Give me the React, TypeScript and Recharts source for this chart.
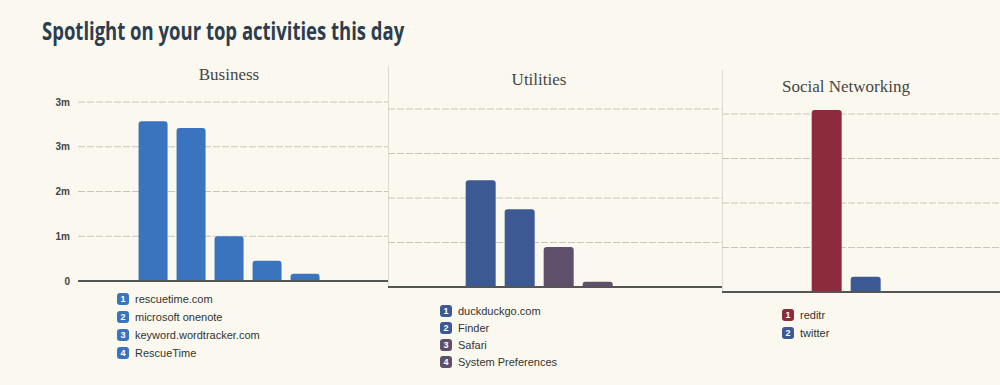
import { BarChart, Bar, XAxis, YAxis, CartesianGrid, Cell } from "recharts";

// minutes spent per app
const businessApps = [
  "rescuetime.com",
  "microsoft onenote",
  "keyword.wordtracker.com",
  "RescueTime",
  "",
];
const businessMinutes = [3.57, 3.42, 1.0, 0.45, 0.16];

const utilityApps = ["duckduckgo.com", "Finder", "Safari", "System Preferences"];
const utilityMinutes = [2.4, 1.75, 0.9, 0.12];

const socialApps = ["reditr", "twitter"];
const socialMinutes = [4.09, 0.34];

const yTicks = [0, 1, 2, 3, 4];
const yTickLabels = ["0", "1m", "2m", "3m", "3m"];

const businessColors = ["#3a74bf", "#3a74bf", "#3a74bf", "#3a74bf", "#3a74bf"];
const utilityColors = ["#3d5994", "#3d5994", "#5f4f6b", "#5f4f6b"];
const socialColors = ["#8b2b3b", "#3d5994"];

const DOMAIN_MAX = 4.2;
const CREAM = "#fbf9ef";

interface PanelProps {
  title: string;
  names: string[];
  values: number[];
  colors: string[];
  left: number;
  width: number;
  axisWidth: number;
  top4: number; // y of the 4th gridline
  baseline: number;
  padLeft: number;
  padRight: number;
  titleY: number;
  legendX: number;
  legendY: number;
  legendGap: number;
  legendCount: number;
}

function Panel(p: PanelProps) {
  const data = p.names.map((name, i) => ({ name, minutes: p.values[i] }));
  const unit = (p.baseline - p.top4) / 4;
  const plotTop = p.baseline - DOMAIN_MAX * unit;
  const chartHeight = p.baseline + 6;
  const xAxisHeight = 2;
  const plotLeft = p.left + p.axisWidth;
  const plotWidth = p.width - p.axisWidth;

  return (
    <>
      <div
        style={{
          position: "absolute",
          left: plotLeft,
          width: plotWidth - p.padRight + p.padLeft,
          top: p.titleY,
          textAlign: "center",
          fontFamily: "'Liberation Serif', serif",
          fontSize: 17,
          color: "#454545",
        }}
      >
        {p.title}
      </div>
      <div style={{ position: "absolute", left: p.left, top: 0 }}>
        <BarChart
          width={p.width}
          height={chartHeight}
          data={data}
          margin={{ top: plotTop, right: 0, left: 0, bottom: chartHeight - p.baseline - xAxisHeight }}
          barCategoryGap="12%"
        >
          <CartesianGrid
            vertical={false}
            stroke="#c9c5b8"
            strokeDasharray="7 2"
            horizontalValues={yTicks}
          />
          <XAxis
            dataKey="name"
            tick={false}
            tickLine={false}
            height={xAxisHeight}
            axisLine={{ stroke: "#555", strokeWidth: 2 }}
            padding={{ left: p.padLeft, right: p.padRight }}
          />
          <YAxis
            hide={p.axisWidth === 0}
            width={p.axisWidth}
            domain={[0, DOMAIN_MAX]}
            ticks={yTicks}
            tickFormatter={(v: number) => yTickLabels[yTicks.indexOf(v)] ?? ""}
            axisLine={false}
            tickLine={false}
            tick={{ fontSize: 10, fill: "#444", fontWeight: 700, fontFamily: "'Liberation Sans', Arial" }}
          />
          <Bar dataKey="minutes" radius={[3, 3, 0, 0]} isAnimationActive={false}>
            {data.map((d, i) => (
              <Cell key={`cell-${i}`} fill={p.colors[i]} />
            ))}
          </Bar>
        </BarChart>
      </div>
      {data.slice(0, p.legendCount).map((d, i) => (
        <div
          key={d.name + i}
          style={{
            position: "absolute",
            left: p.legendX,
            top: p.legendY + i * p.legendGap,
            display: "flex",
            alignItems: "center",
            fontFamily: "'Liberation Sans', Arial, sans-serif",
            fontSize: 11,
            color: "#333",
            whiteSpace: "nowrap",
          }}
        >
          <span
            style={{
              display: "inline-block",
              width: 12,
              height: 12,
              borderRadius: 3,
              background: p.colors[i],
              color: "#fff",
              fontSize: 9,
              fontWeight: 700,
              lineHeight: "12px",
              textAlign: "center",
              marginRight: 6,
            }}
          >
            {i + 1}
          </span>
          {d.name}
        </div>
      ))}
    </>
  );
}

export default function App() {
  return (
    <div
      style={{
        position: "fixed",
        left: 0,
        top: 0,
        width: 1000,
        height: 385,
        background: CREAM,
        overflow: "hidden",
      }}
    >
      <div
        style={{
          position: "absolute",
          left: 42,
          top: 13,
          fontFamily: "'Open Sans', sans-serif",
          fontWeight: 700,
          fontSize: 25,
          color: "#2c3d4f",
          transform: "scaleX(0.74)",
          transformOrigin: "left top",
          whiteSpace: "nowrap",
        }}
      >
        Spotlight on your top activities this day
      </div>

      <div style={{ position: "absolute", left: 388, top: 66, width: 1, height: 220, background: "#dedbd2" }} />
      <div style={{ position: "absolute", left: 722, top: 70, width: 1, height: 222, background: "#dedbd2" }} />

      <Panel
        title="Business"
        names={businessApps}
        values={businessMinutes}
        colors={businessColors}
        left={40}
        width={348}
        axisWidth={38}
        top4={102}
        baseline={281}
        padLeft={56}
        padRight={64}
        titleY={65}
        legendX={117}
        legendY={293}
        legendGap={18}
        legendCount={4}
      />
      <Panel
        title="Utilities"
        names={utilityApps}
        values={utilityMinutes}
        colors={utilityColors}
        left={388}
        width={334}
        axisWidth={0}
        top4={109}
        baseline={287}
        padLeft={73}
        padRight={105}
        titleY={70}
        legendX={440}
        legendY={305}
        legendGap={17}
        legendCount={4}
      />
      <Panel
        title="Social Networking"
        names={socialApps}
        values={socialMinutes}
        colors={socialColors}
        left={722}
        width={278}
        axisWidth={0}
        top4={114}
        baseline={292}
        padLeft={85}
        padRight={115}
        titleY={77}
        legendX={782}
        legendY={309}
        legendGap={18}
        legendCount={2}
      />
    </div>
  );
}
